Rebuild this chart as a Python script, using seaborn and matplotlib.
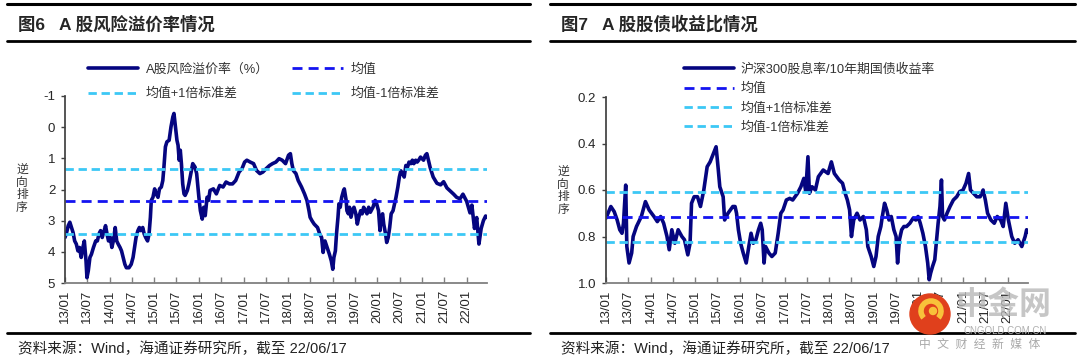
import numpy as np
import pandas as pd
import seaborn as sns
import matplotlib.pyplot as plt
from matplotlib.lines import Line2D
from matplotlib.patches import Ellipse, Arc

# ---- data (x = months since 2013/01) ----
erp_month = [0.0, 0.43, 0.87, 1.3, 1.74, 2.17, 2.6, 3.04, 3.48, 3.9, 4.35, 4.8, 5.2, 5.65, 5.9,
             6.26, 6.7, 7.1, 7.65, 8.26, 8.7, 9.13, 9.57, 10.0, 10.4, 10.9, 11.3, 11.7, 12.2, 12.6,
             13.0, 13.5, 13.9, 14.3, 14.8, 15.2, 15.65, 16.1, 16.5, 17.2, 17.8, 18.3, 18.7, 19.1,
             19.6, 20.0, 20.4, 20.9, 21.3, 21.7, 22.2, 22.6, 22.96, 23.2, 23.65, 24.1, 24.5, 25.0,
             25.4, 25.9, 26.3, 26.6, 27.0, 27.4, 28.0, 28.5, 29.0, 29.3, 29.7, 30.1, 30.4, 30.7,
             31.0, 31.3, 31.65, 32.0, 32.3, 32.9, 33.3, 33.9, 34.35, 34.96, 35.4,
             36.0, 36.4, 36.9, 37.3, 37.7, 38.2, 38.6, 39.0, 39.9, 40.7, 41.6, 42.5, 43.3, 44.2,
             45.05, 45.9, 46.8, 47.6, 48.3, 48.9, 49.8, 50.7, 51.5, 52.4, 53.2, 54.1, 55.0, 55.8,
             56.7, 57.55, 58.4, 59.3, 60.1, 60.6, 61.0, 61.4, 62.1, 62.7, 63.6, 64.4, 65.05, 65.6,
             65.9, 66.4, 67.0, 67.9, 68.5, 69.0, 69.4, 69.9, 70.5, 71.1, 71.6, 72.0,
             72.3, 72.7, 73.0, 73.4, 73.65, 74.0, 74.4, 74.9, 75.1, 75.6, 75.8, 76.2, 76.5, 76.9,
             77.3, 77.7, 78.2, 78.6, 79.0, 79.5, 79.9, 80.3, 80.8, 81.2, 81.65, 82.1, 82.8, 83.4,
             83.8, 84.3, 84.7, 84.96, 85.4, 85.7, 86.2, 86.5, 86.9, 87.3, 87.7, 88.2, 88.6, 89.0,
             89.5, 89.9, 90.3, 90.8, 91.2, 91.65, 92.1, 92.5, 93.0, 93.4, 93.8, 94.3, 94.7, 95.1,
             95.6, 96.0, 96.4, 96.9, 97.3,
             98.2, 99.0, 100.0, 101.0, 101.8, 102.7, 103.6, 104.5, 105.3, 106.2, 107.0, 108.0,
             108.9, 109.4, 110.1, 110.7, 111.3, 111.9, 112.5, 113.1, 113.5]
erp_value = [3.54, 3.38, 3.16, 3.05, 3.22, 3.38, 3.65, 3.75, 3.97, 3.86, 4.18, 3.86, 3.65, 4.29, 4.83,
             4.61, 4.18, 4.08, 3.86, 3.65, 3.65, 3.43, 3.32, 3.54, 3.38, 3.16, 3.43, 3.65, 3.54, 3.86,
             3.65, 3.22, 3.65, 3.75, 3.86, 3.97, 4.18, 4.40, 4.51, 4.51, 4.40, 4.18, 3.86, 3.54,
             3.32, 3.22, 3.32, 3.22, 3.43, 3.54, 3.65, 3.43, 2.89, 2.35, 2.25, 1.98, 2.14, 2.25,
             1.98, 1.92, 1.71, 1.28, 0.63, 0.47, 0.42, -0.01, -0.33, -0.44, -0.01, 0.42, 0.58, 1.06,
             0.74, 1.17, 1.82, 2.14, 2.19, 2.03, 1.82, 1.44, 1.17, 1.28, 1.49,
             2.25, 2.68, 2.95, 2.57, 2.84, 2.25, 2.35, 2.03, 1.98, 2.14, 1.87, 1.92, 1.76, 1.82,
             1.82, 1.71, 1.44, 1.33, 1.12, 1.06, 1.12, 1.17, 1.39, 1.49, 1.44, 1.33, 1.23, 1.17,
             1.12, 1.01, 1.06, 1.17, 0.90, 0.85, 1.17, 1.39, 1.49, 1.71, 1.92, 2.14, 2.35, 2.68,
             2.89, 3.00, 3.11, 3.22, 3.43, 3.54, 4.02, 3.65, 3.86, 4.08, 4.29, 4.56,
             4.18, 3.97, 3.43, 2.89, 2.46, 2.57, 2.25, 2.03, 1.98, 2.35, 2.68, 2.78, 2.57, 2.89,
             2.68, 2.57, 2.78, 3.11, 2.89, 2.68, 2.78, 2.57, 2.68, 2.78, 2.57, 2.73, 2.57, 2.35,
             2.46, 2.68, 3.32, 2.89, 2.78, 3.11, 3.43, 3.70, 3.54, 3.22, 2.78, 2.68, 2.46, 2.25,
             1.92, 1.60, 1.40, 1.49, 1.60, 1.23, 1.28, 1.12, 1.17, 1.06, 1.17, 1.06, 1.12, 1.06,
             0.96, 1.01, 1.06, 0.90, 0.85,
             1.30, 1.60, 1.80, 1.85, 1.75, 1.95, 2.05, 2.15, 2.25, 2.30, 2.15, 2.38,
             2.75, 2.50, 3.25, 2.90, 3.75, 3.25, 3.00, 2.85, 2.90]
erp_mean, erp_up, erp_down = 2.37, 1.34, 3.42

ratio_month = [0.0, 1.3, 2.2, 3.0, 3.7, 4.3, 4.7, 5.3, 5.6, 6.2, 6.9, 7.3, 8.2, 9.5, 10.6, 11.6,
               12.9, 13.8, 14.7, 15.5, 16.4, 17.0, 17.7, 18.5, 19.4, 20.4, 21.1, 22.0, 22.6, 23.0,
               23.7, 24.6, 25.4, 26.3, 27.2, 28.0, 28.9, 29.6, 30.2, 30.6, 31.5, 31.9, 32.8, 34.1,
               34.7, 35.1, 35.6, 36.2, 36.9, 37.7, 38.4, 39.0, 39.6, 40.3, 41.0, 41.6, 42.0, 42.5,
               42.9, 43.8, 44.6, 45.5, 46.3, 47.0, 47.6, 48.5, 49.4, 50.2, 51.5, 52.4, 53.2, 53.7,
               54.3, 54.7, 55.4, 56.3, 57.1, 58.4, 59.7, 60.6, 61.4, 62.7, 63.6, 64.3, 64.9, 65.5,
               66.0, 66.6, 67.5, 68.3, 69.2, 70.0,
               70.4, 71.3, 72.0, 72.6, 73.2, 73.9, 74.3, 74.9, 75.5, 76.1, 76.7, 77.4, 78.0, 78.4,
               78.9, 79.5, 80.1, 80.8, 81.7, 82.6, 83.3, 83.9, 84.5, 85.2, 85.9, 86.5, 86.9, 87.3,
               87.8, 88.4, 88.8, 89.3, 89.8, 90.2, 90.5, 91.0, 91.7, 92.5, 93.4, 94.3, 95.1, 96.0,
               96.8, 97.5, 98.0, 98.8, 99.7, 100.6, 101.4, 102.0, 102.6, 103.5, 104.4, 105.2, 106.1,
               106.8, 107.5, 108.2, 109.1, 109.9, 110.8, 111.8, 112.7, 113.1, 113.5]
ratio_value = [0.721, 0.671, 0.693, 0.729, 0.771, 0.786, 0.743, 0.579, 0.843, 0.914, 0.871, 0.800,
               0.757, 0.714, 0.650, 0.686, 0.714, 0.736, 0.714, 0.743, 0.800, 0.857, 0.771, 0.829,
               0.771, 0.800, 0.814, 0.879, 0.829, 0.657, 0.629, 0.629, 0.671, 0.600, 0.500, 0.479,
               0.443, 0.414, 0.514, 0.586, 0.629, 0.729, 0.700, 0.671,
               0.671, 0.700, 0.771, 0.829, 0.871, 0.914, 0.843, 0.786, 0.829, 0.814, 0.771, 0.743,
               0.771, 0.914, 0.843, 0.871, 0.886, 0.871, 0.786, 0.700, 0.686, 0.643, 0.636, 0.643,
               0.614, 0.586, 0.550, 0.607, 0.457, 0.614, 0.586, 0.600, 0.543, 0.514, 0.529, 0.479,
               0.529, 0.557, 0.571, 0.614, 0.643, 0.686, 0.800, 0.729, 0.700, 0.729, 0.714, 0.771,
               0.843, 0.886, 0.929, 0.886, 0.800, 0.757, 0.714, 0.657, 0.686, 0.729, 0.714, 0.771,
               0.800, 0.914, 0.814, 0.771, 0.757, 0.757, 0.743, 0.721, 0.729, 0.714, 0.743, 0.786,
               0.843, 0.914, 0.986, 0.957, 0.929, 0.900, 0.829, 0.743, 0.671, 0.557, 0.714, 0.729,
               0.700, 0.671, 0.643, 0.629, 0.607, 0.600, 0.571, 0.529, 0.600, 0.614, 0.629, 0.629,
               0.600, 0.643, 0.700, 0.729, 0.743, 0.714, 0.729, 0.757, 0.657, 0.729, 0.800, 0.829,
               0.814, 0.843, 0.800, 0.771, 0.780]
ratio_mean, ratio_up, ratio_down = 0.717, 0.607, 0.824

tick_dates = pd.date_range('2013-01-01', '2022-01-01', freq='6MS')
tick_labels = [d.strftime('%y/%m') for d in tick_dates]

start = pd.Timestamp('2013-01-01')
end = pd.Timestamp('2022-06-17')


def to_dates(months):
    return start + pd.to_timedelta(np.array(months) * 30.44, unit='D')


sns.set_theme(style='white')
plt.rcParams['font.family'] = ['Liberation Sans', 'Noto Sans CJK SC', 'DejaVu Sans']
plt.rcParams['axes.unicode_minus'] = False

W, H = 1080, 363
fig = plt.figure(figsize=(W / 100, H / 100), dpi=100)

NAVY = '#050580'
BLUE = '#1414f0'
CYAN = '#3cc8f5'


def fx(px):
    return px / W


def fy(py):
    return 1 - py / H


def draw_panel(ax, months, values, mean, up, down, yticks, yfmt):
    df = pd.DataFrame({'date': to_dates(months), 'value': values})
    sns.lineplot(data=df, x='date', y='value', ax=ax, color=NAVY, lw=2.6,
                 estimator=None, sort=False, legend=False)
    h_mean = ax.axhline(mean, color=BLUE, lw=2.0, dashes=(3.6, 2.2))
    h_up = ax.axhline(down, color=CYAN, lw=2.0, dashes=(3.0, 1.7))
    h_dn = ax.axhline(up, color=CYAN, lw=2.0, dashes=(3.0, 1.7))
    ax.set_xlim(start, end)
    ax.set_ylim(yticks[-1], yticks[0])
    ax.set_yticks(yticks)
    ax.set_yticklabels([yfmt.format(v) for v in yticks])
    ax.set_xticks(tick_dates)
    ax.set_xticklabels(tick_labels, rotation=90)
    ax.set_xlabel('')
    ax.set_ylabel('')
    for s in ['top', 'right']:
        ax.spines[s].set_visible(False)
    ax.spines['left'].set_color('#404040')
    ax.spines['bottom'].set_color('#808080')
    ax.spines['bottom'].set_linewidth(1.3)
    ax.tick_params(axis='x', direction='in', length=4, width=1, color='#808080',
                   labelsize=9.5, pad=5, bottom=True)
    ax.tick_params(axis='y', direction='out', length=3, width=1, color='#404040',
                   labelsize=9.5, pad=4, left=True)
    line = Line2D([], [], color=NAVY, lw=2.6)
    return line, h_mean, h_up, h_dn


ax1 = fig.add_axes([fx(65), fy(283), fx(422), (283 - 96) / H])
ax2 = fig.add_axes([fx(606), fy(283), fx(422), (283 - 97) / H])

l1, m1, u1, d1 = draw_panel(ax1, erp_month, erp_value, erp_mean, erp_up, erp_down,
                            [-1, 0, 1, 2, 3, 4, 5], '{:d}')
l2, m2, u2, d2 = draw_panel(ax2, ratio_month, ratio_value, ratio_mean, ratio_up, ratio_down,
                            [0.2, 0.4, 0.6, 0.8, 1.0], '{:.1f}')

# legends
fig.legend([l1, u1, m1, d1], ['A股风险溢价率（%）', '均值+1倍标准差', '均值', '均值-1倍标准差'],
           ncol=2, loc='upper left', bbox_to_anchor=(fx(76), fy(52)), frameon=False,
           fontsize=9.3, handlelength=3.9, handletextpad=0.6, columnspacing=1.8,
           labelspacing=0.95, labelcolor='#333333')
fig.legend([l2, m2, u2, d2], ['沪深300股息率/10年期国债收益率', '均值', '均值+1倍标准差', '均值-1倍标准差'],
           ncol=1, loc='upper left', bbox_to_anchor=(fx(672), fy(52)), frameon=False,
           fontsize=9.3, handlelength=3.9, handletextpad=0.5,
           labelspacing=0.55, labelcolor='#333333')

# titles, rules and source notes
for x0, x1, title in [(7, 530, '图6   A 股风险溢价率情况'), (550, 1075, '图7   A 股股债收益比情况')]:
    for yy, lw in [(4, 2.2), (41, 2.0), (333, 2.0)]:
        fig.add_artist(Line2D([fx(x0), fx(x1)], [fy(yy), fy(yy)], color='black', lw=lw))
    fig.text(fx(x0 + 11), fy(24), title, fontsize=12.5, fontweight='bold', va='center', ha='left')
    fig.text(fx(x0 + 11), fy(349), '资料来源：Wind，海通证券研究所，截至 22/06/17',
             fontsize=10.5, va='center', ha='left', color='#222222')

fig.text(fx(22), fy(189), '逆\n向\n排\n序', fontsize=8.5, ha='center', va='center',
         linespacing=1.1, color='#333333')
fig.text(fx(563), fy(191), '逆\n向\n排\n序', fontsize=8.5, ha='center', va='center',
         linespacing=1.1, color='#333333')

# watermark in the lower right corner
fig.add_artist(Ellipse((fx(930), fy(314)), fx(40), 40 / H, color='#e0401c', zorder=5))
fig.add_artist(Arc((fx(931), fy(311)), fx(20), 20 / H, theta1=-70, theta2=250,
                   color='#f8c23a', lw=4, zorder=6))
fig.add_artist(Ellipse((fx(933), fy(311)), fx(7), 7 / H, color='#f8c23a', zorder=6))
fig.text(fx(1003), fy(306), '中金网', fontsize=23, fontweight='bold', color='#b8b8b8',
         ha='center', va='center', alpha=0.8, zorder=6)
fig.text(fx(1005), fy(331), 'CNGOLD.COM.CN', fontsize=7, color='#b0b0b0',
         ha='center', va='center', zorder=6)
fig.text(fx(980), fy(345), '中  文  财  经  新  媒  体', fontsize=8.5, color='#a8a8a8',
         ha='center', va='center', zorder=6)

fig.savefig('out.png', dpi=100)
